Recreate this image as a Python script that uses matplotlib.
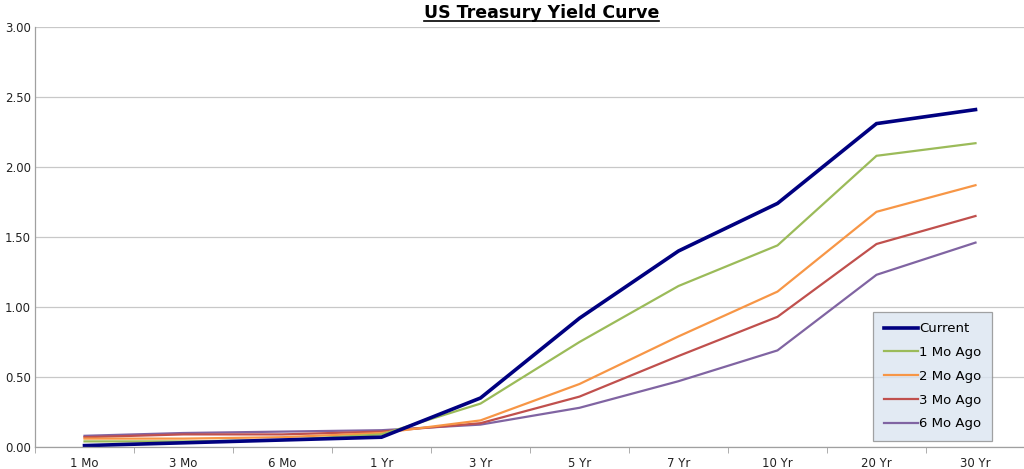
import matplotlib
matplotlib.use("Agg")
import matplotlib.pyplot as plt
from matplotlib.lines import Line2D

categories = ["1 Mo", "3 Mo", "6 Mo", "1 Yr", "3 Yr", "5 Yr", "7 Yr", "10 Yr", "20 Yr", "30 Yr"]
current = [0.01, 0.03, 0.05, 0.07, 0.35, 0.92, 1.40, 1.74, 2.31, 2.41]
mo1_ago = [0.04, 0.04, 0.05, 0.09, 0.31, 0.75, 1.15, 1.44, 2.08, 2.17]
mo2_ago = [0.06, 0.06, 0.07, 0.10, 0.19, 0.45, 0.79, 1.11, 1.68, 1.87]
mo3_ago = [0.07, 0.09, 0.09, 0.11, 0.17, 0.36, 0.65, 0.93, 1.45, 1.65]
mo6_ago = [0.08, 0.10, 0.11, 0.12, 0.16, 0.28, 0.47, 0.69, 1.23, 1.46]
yticks = [0.0, 0.5, 1.0, 1.5, 2.0, 2.5, 3.0]

plt.rcParams['font.family'] = ['DejaVu Sans']
fig = plt.figure(figsize=(10.24, 4.69), dpi=100)
ax = fig.add_axes([35/1024, 1-447/469, 990/1024, (447-27)/469])

x = list(range(len(categories)))
series = [
    ("Current", current, "#000080", 2.6),
    ("1 Mo Ago", mo1_ago, "#9bbb59", 1.6),
    ("2 Mo Ago", mo2_ago, "#f79646", 1.6),
    ("3 Mo Ago", mo3_ago, "#c0504d", 1.6),
    ("6 Mo Ago", mo6_ago, "#8064a2", 1.6),
]
for lbl, vals, col, lw in series[::-1]:
    ax.plot(x, vals, color=col, lw=lw, label=lbl, solid_joinstyle='miter')

ax.set_xlim(-0.5, len(categories) - 0.5)
ax.set_ylim(0, 3.0)
ax.set_yticks(yticks)
ax.set_yticklabels([f"{v:.2f}" for v in yticks], fontsize=8.5, color="#222222")
ax.set_xticks(x)
ax.set_xticklabels(categories, fontsize=8.5, color="#222222")
ax.set_xticks([i + 0.5 for i in range(-1, len(categories))], minor=True)
ax.tick_params(axis='x', which='major', length=0, pad=7)
ax.tick_params(axis='x', which='minor', length=4, color="#a0a0a0")
ax.tick_params(axis='y', length=0, pad=3)
ax.grid(axis='y', color="#c8c8c8", lw=0.9)
ax.set_axisbelow(True)
for s in ['top', 'right']:
    ax.spines[s].set_visible(False)
for s in ['left', 'bottom']:
    ax.spines[s].set_color("#a0a0a0")
    ax.spines[s].set_linewidth(0.9)

handles, labels = ax.get_legend_handles_labels()
leg = ax.legend(handles[::-1], labels[::-1], loc='lower right', bbox_to_anchor=(957/990, 6/420),
                fontsize=9.5, frameon=True, fancybox=False, handlelength=2.6, handletextpad=0.1,
                labelspacing=0.82, borderpad=0.8, borderaxespad=0)
leg.get_frame().set_facecolor("#dbe5f1")
leg.get_frame().set_edgecolor("#8c8c8c")
leg.get_frame().set_linewidth(0.9)

t = fig.text(0.5 + 0.029, 1 - 13/469, "US Treasury Yield Curve", ha='center', va='center',
             fontsize=12.5, fontweight='bold', color="#000000")
fig.canvas.draw()
bb = t.get_window_extent().transformed(fig.transFigure.inverted())
fig.add_artist(Line2D([bb.x0, bb.x1], [bb.y0 + 0.002, bb.y0 + 0.002], color='black', lw=1.2,
                      transform=fig.transFigure))

fig.savefig("out.png", dpi=100)
